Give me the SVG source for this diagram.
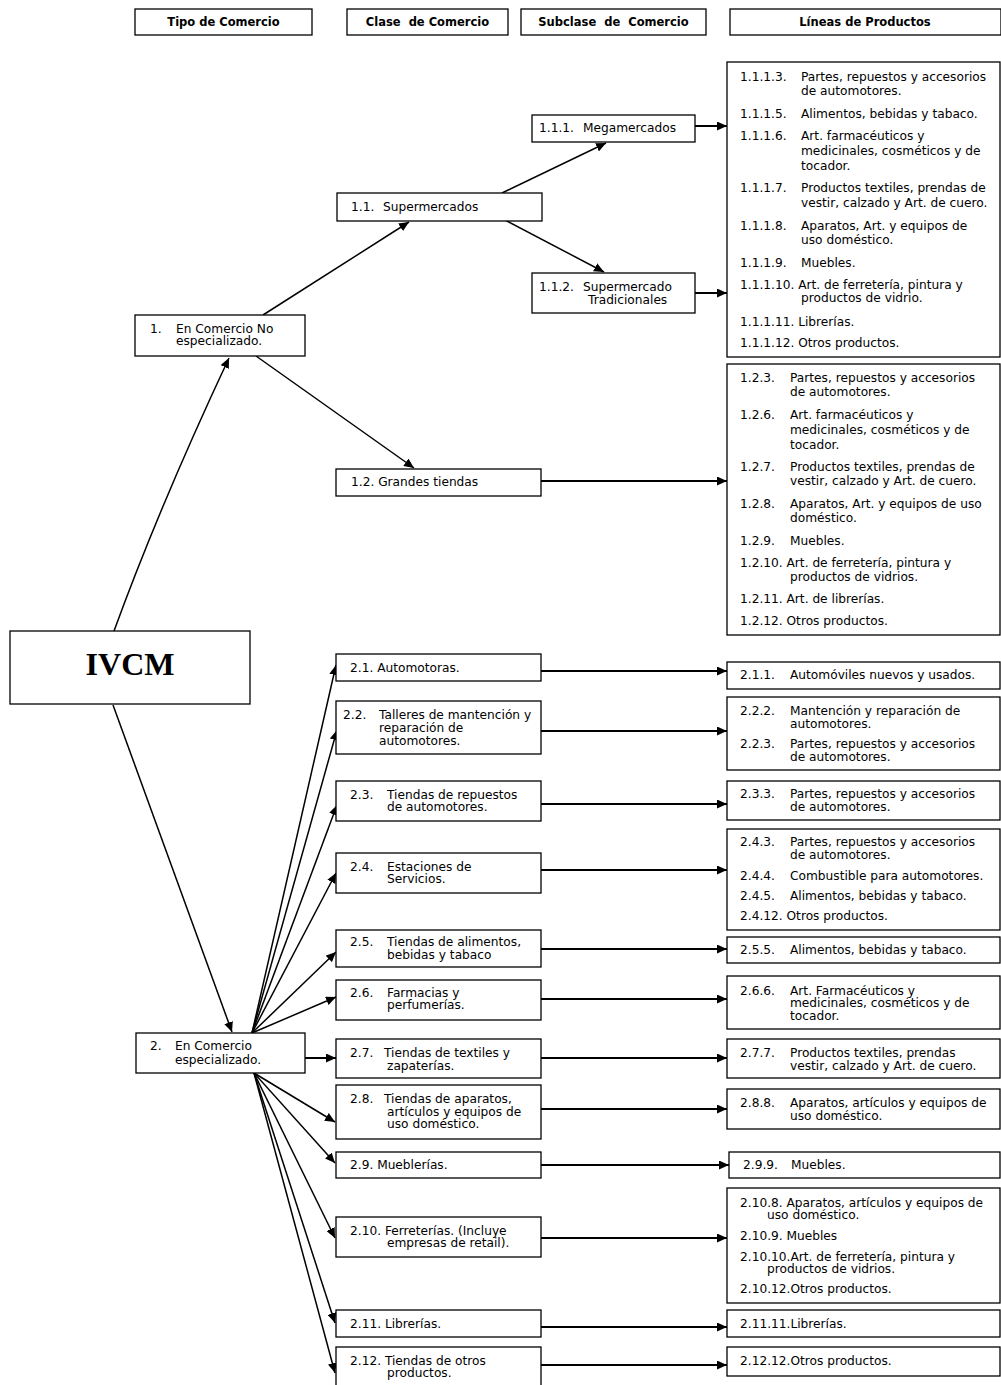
<svg xmlns="http://www.w3.org/2000/svg" width="1001" height="1385" viewBox="0 0 1001 1385">
<defs>
<marker id="a" markerUnits="userSpaceOnUse" markerWidth="11" markerHeight="9" refX="10" refY="4.5" orient="auto">
<path d="M0,0 L10,4.5 L0,9 z" fill="#000"/>
</marker>
<style>
.b{fill:#fff;stroke:#000;stroke-width:1.3}
.t{font-family:"DejaVu Sans",Verdana,sans-serif;font-size:12.2px;fill:#000}
.h{font-family:"DejaVu Sans",Verdana,sans-serif;font-weight:bold;font-size:11.5px;fill:#000;text-anchor:middle}
.i{font-family:"Liberation Serif","Times New Roman",serif;font-weight:bold;font-size:32px;fill:#000;text-anchor:middle}
#connectors line,#connectors path{stroke:#000;stroke-width:1.5;fill:none;marker-end:url(#a)}
#connectors .w{stroke-width:2}
</style>
</defs>
<rect width="1001" height="1385" fill="#fff"/>

<g id="headers">
<rect class="b" x="135" y="9" width="177" height="26"/>
<text class="h" x="223.5" y="26">Tipo de Comercio</text>
<rect class="b" x="347" y="9" width="161" height="26"/>
<text class="h" x="427.5" y="26" xml:space="preserve">Clase  de Comercio</text>
<rect class="b" x="521" y="9" width="185" height="26"/>
<text class="h" x="613.5" y="26" xml:space="preserve">Subclase  de  Comercio</text>
<rect class="b" x="730" y="9" width="271" height="26"/>
<text class="h" x="865" y="26">Líneas de Productos</text>
</g>

<g id="connectors">
<line x1="263" y1="315" x2="409" y2="222"/>
<line x1="502" y1="193" x2="606" y2="143"/>
<line x1="505" y1="220" x2="604" y2="272"/>
<line class="w" x1="695" y1="126" x2="727" y2="126"/>
<line class="w" x1="695" y1="293" x2="727" y2="293"/>
<line x1="256" y1="356" x2="414" y2="468"/>
<line class="w" x1="541" y1="481" x2="727" y2="481"/>
<path d="M114,631 Q160,505 229,358"/>
<line x1="113" y1="705" x2="232" y2="1032"/>
<line x1="252" y1="1033" x2="336" y2="665"/>
<line x1="252" y1="1033" x2="337" y2="730"/>
<line x1="252" y1="1033" x2="337" y2="805"/>
<line x1="252" y1="1033" x2="336" y2="873"/>
<line x1="252" y1="1033" x2="336" y2="952"/>
<line x1="252" y1="1033" x2="336" y2="997"/>
<line class="w" x1="305" y1="1058" x2="336" y2="1058"/>
<line x1="254" y1="1073" x2="335" y2="1122"/>
<line x1="254" y1="1073" x2="335" y2="1163"/>
<line x1="254" y1="1073" x2="335" y2="1238"/>
<line x1="254" y1="1073" x2="335" y2="1323"/>
<line x1="254" y1="1073" x2="335" y2="1373"/>
<line class="w" x1="541" y1="671" x2="727" y2="671"/>
<line class="w" x1="541" y1="731" x2="727" y2="731"/>
<line class="w" x1="539" y1="804" x2="727" y2="804"/>
<line class="w" x1="541" y1="870" x2="727" y2="870"/>
<line class="w" x1="541" y1="949" x2="727" y2="949"/>
<line class="w" x1="541" y1="999" x2="727" y2="999"/>
<line class="w" x1="541" y1="1058" x2="727" y2="1058"/>
<line class="w" x1="541" y1="1109" x2="727" y2="1109"/>
<line class="w" x1="541" y1="1165" x2="729" y2="1165"/>
<line class="w" x1="541" y1="1238" x2="727" y2="1238"/>
<line class="w" x1="541" y1="1327" x2="727" y2="1327"/>
<line class="w" x1="541" y1="1365" x2="727" y2="1365"/>
</g>

<g id="ivcm">
<rect class="b" x="10" y="631" width="240" height="73" stroke-width="2"/>
<text class="i" x="130" y="675">IVCM</text>
</g>

<g id="n1">
<rect class="b" x="135" y="315" width="170" height="41"/>
<text class="t" x="150" y="333">1.</text><text class="t" x="176" y="333">En Comercio No</text>
<text class="t" x="176" y="345">especializado.</text>
</g>

<g id="n1-1">
<rect class="b" x="337" y="193" width="205" height="28"/>
<text class="t" x="351" y="211">1.1.</text><text class="t" x="383" y="211">Supermercados</text>
</g>

<g id="n1-1-1">
<rect class="b" x="532" y="115" width="163" height="27"/>
<text class="t" x="539" y="132">1.1.1.</text><text class="t" x="583" y="132">Megamercados</text>
</g>

<g id="n1-1-2">
<rect class="b" x="532" y="273" width="163" height="40"/>
<text class="t" x="539" y="291">1.1.2.</text><text class="t" x="583" y="291">Supermercado</text>
<text class="t" x="588" y="304">Tradicionales</text>
</g>

<g id="p1-1">
<rect class="b" x="727" y="62" width="273" height="295"/>
<text class="t" x="740" y="81">1.1.1.3.</text><text class="t" x="801" y="81">Partes, repuestos y accesorios</text>
<text class="t" x="801" y="95">de automotores.</text>
<text class="t" x="740" y="118">1.1.1.5.</text><text class="t" x="801" y="118">Alimentos, bebidas y tabaco.</text>
<text class="t" x="740" y="140">1.1.1.6.</text><text class="t" x="801" y="140">Art. farmacéuticos y</text>
<text class="t" x="801" y="155">medicinales, cosméticos y de</text>
<text class="t" x="801" y="170">tocador.</text>
<text class="t" x="740" y="192">1.1.1.7.</text><text class="t" x="801" y="192">Productos textiles, prendas de</text>
<text class="t" x="801" y="207">vestir, calzado y Art. de cuero.</text>
<text class="t" x="740" y="230">1.1.1.8.</text><text class="t" x="801" y="230">Aparatos, Art. y equipos de</text>
<text class="t" x="801" y="244">uso doméstico.</text>
<text class="t" x="740" y="267">1.1.1.9.</text><text class="t" x="801" y="267">Muebles.</text>
<text class="t" x="740" y="289">1.1.1.10. Art. de ferretería, pintura y</text>
<text class="t" x="801" y="302">productos de vidrio.</text>
<text class="t" x="740" y="326">1.1.1.11. Librerías.</text>
<text class="t" x="740" y="347">1.1.1.12. Otros productos.</text>
</g>

<g id="n1-2">
<rect class="b" x="336" y="469" width="205" height="27"/>
<text class="t" x="351" y="486">1.2. Grandes tiendas</text>
</g>

<g id="p1-2">
<rect class="b" x="727" y="364" width="273" height="271"/>
<text class="t" x="740" y="382">1.2.3.</text><text class="t" x="790" y="382">Partes, repuestos y accesorios</text>
<text class="t" x="790" y="396">de automotores.</text>
<text class="t" x="740" y="419">1.2.6.</text><text class="t" x="790" y="419">Art. farmacéuticos y</text>
<text class="t" x="790" y="434">medicinales, cosméticos y de</text>
<text class="t" x="790" y="449">tocador.</text>
<text class="t" x="740" y="471">1.2.7.</text><text class="t" x="790" y="471">Productos textiles, prendas de</text>
<text class="t" x="790" y="485">vestir, calzado y Art. de cuero.</text>
<text class="t" x="740" y="508">1.2.8.</text><text class="t" x="790" y="508">Aparatos, Art. y equipos de uso</text>
<text class="t" x="790" y="522">doméstico.</text>
<text class="t" x="740" y="545">1.2.9.</text><text class="t" x="790" y="545">Muebles.</text>
<text class="t" x="740" y="567">1.2.10. Art. de ferretería, pintura y</text>
<text class="t" x="790" y="581">productos de vidrios.</text>
<text class="t" x="740" y="603">1.2.11. Art. de librerías.</text>
<text class="t" x="740" y="625">1.2.12. Otros productos.</text>
</g>

<g id="n2">
<rect class="b" x="136" y="1033" width="169" height="40"/>
<text class="t" x="150" y="1050">2.</text><text class="t" x="175" y="1050">En Comercio</text>
<text class="t" x="175" y="1064">especializado.</text>
</g>

<g id="n2-1">
<rect class="b" x="336" y="654" width="205" height="27"/>
<text class="t" x="350" y="672">2.1. Automotoras.</text>
</g>
<g id="p2-1">
<rect class="b" x="727" y="662" width="273" height="27"/>
<text class="t" x="740" y="679">2.1.1.</text><text class="t" x="790" y="679">Automóviles nuevos y usados.</text>
</g>

<g id="n2-2">
<rect class="b" x="336" y="701" width="205" height="53"/>
<text class="t" x="343" y="719">2.2.</text><text class="t" x="379" y="719">Talleres de mantención y</text>
<text class="t" x="379" y="732">reparación de</text>
<text class="t" x="379" y="745">automotores.</text>
</g>
<g id="p2-2">
<rect class="b" x="727" y="697" width="273" height="73"/>
<text class="t" x="740" y="715">2.2.2.</text><text class="t" x="790" y="715">Mantención y reparación de</text>
<text class="t" x="790" y="728">automotores.</text>
<text class="t" x="740" y="748">2.2.3.</text><text class="t" x="790" y="748">Partes, repuestos y accesorios</text>
<text class="t" x="790" y="761">de automotores.</text>
</g>

<g id="n2-3">
<rect class="b" x="336" y="781" width="205" height="40"/>
<text class="t" x="350" y="799">2.3.</text><text class="t" x="387" y="799">Tiendas de repuestos</text>
<text class="t" x="387" y="811">de automotores.</text>
</g>
<g id="p2-3">
<rect class="b" x="727" y="781" width="273" height="39"/>
<text class="t" x="740" y="798">2.3.3.</text><text class="t" x="790" y="798">Partes, repuestos y accesorios</text>
<text class="t" x="790" y="811">de automotores.</text>
</g>

<g id="n2-4">
<rect class="b" x="336" y="853" width="205" height="40"/>
<text class="t" x="350" y="871">2.4.</text><text class="t" x="387" y="871">Estaciones de</text>
<text class="t" x="387" y="883">Servicios.</text>
</g>
<g id="p2-4">
<rect class="b" x="727" y="829" width="273" height="101"/>
<text class="t" x="740" y="846">2.4.3.</text><text class="t" x="790" y="846">Partes, repuestos y accesorios</text>
<text class="t" x="790" y="859">de automotores.</text>
<text class="t" x="740" y="880">2.4.4.</text><text class="t" x="790" y="880">Combustible para automotores.</text>
<text class="t" x="740" y="900">2.4.5.</text><text class="t" x="790" y="900">Alimentos, bebidas y tabaco.</text>
<text class="t" x="740" y="920">2.4.12. Otros productos.</text>
</g>

<g id="n2-5">
<rect class="b" x="336" y="930" width="205" height="37"/>
<text class="t" x="350" y="946">2.5.</text><text class="t" x="387" y="946">Tiendas de alimentos,</text>
<text class="t" x="387" y="959">bebidas y tabaco</text>
</g>
<g id="p2-5">
<rect class="b" x="727" y="937" width="273" height="26"/>
<text class="t" x="740" y="954">2.5.5.</text><text class="t" x="790" y="954">Alimentos, bebidas y tabaco.</text>
</g>

<g id="n2-6">
<rect class="b" x="336" y="980" width="205" height="40"/>
<text class="t" x="350" y="997">2.6.</text><text class="t" x="387" y="997">Farmacias y</text>
<text class="t" x="387" y="1009">perfumerías.</text>
</g>
<g id="p2-6">
<rect class="b" x="727" y="976" width="273" height="53"/>
<text class="t" x="740" y="995">2.6.6.</text><text class="t" x="790" y="995">Art. Farmacéuticos y</text>
<text class="t" x="790" y="1007">medicinales, cosméticos y de</text>
<text class="t" x="790" y="1020">tocador.</text>
</g>

<g id="n2-7">
<rect class="b" x="336" y="1039" width="205" height="39"/>
<text class="t" x="350" y="1057">2.7.</text><text class="t" x="384" y="1057">Tiendas de textiles y</text>
<text class="t" x="387" y="1070">zapaterías.</text>
</g>
<g id="p2-7">
<rect class="b" x="727" y="1039" width="273" height="39"/>
<text class="t" x="740" y="1057">2.7.7.</text><text class="t" x="790" y="1057">Productos textiles, prendas</text>
<text class="t" x="790" y="1070">vestir, calzado y Art. de cuero.</text>
</g>

<g id="n2-8">
<rect class="b" x="336" y="1085" width="205" height="54"/>
<text class="t" x="350" y="1103">2.8.</text><text class="t" x="384" y="1103">Tiendas de aparatos,</text>
<text class="t" x="387" y="1116">artículos y equipos de</text>
<text class="t" x="387" y="1128">uso doméstico.</text>
</g>
<g id="p2-8">
<rect class="b" x="727" y="1089" width="273" height="40"/>
<text class="t" x="740" y="1107">2.8.8.</text><text class="t" x="790" y="1107">Aparatos, artículos y equipos de</text>
<text class="t" x="790" y="1120">uso doméstico.</text>
</g>

<g id="n2-9">
<rect class="b" x="336" y="1152" width="205" height="26"/>
<text class="t" x="350" y="1169">2.9. Mueblerías.</text>
</g>
<g id="p2-9">
<rect class="b" x="729" y="1152" width="271" height="26"/>
<text class="t" x="743" y="1169">2.9.9.</text><text class="t" x="791" y="1169">Muebles.</text>
</g>

<g id="n2-10">
<rect class="b" x="336" y="1217" width="205" height="40"/>
<text class="t" x="350" y="1235">2.10. Ferreterías. (Incluye</text>
<text class="t" x="387" y="1247">empresas de retail).</text>
</g>
<g id="p2-10">
<rect class="b" x="727" y="1188" width="273" height="115"/>
<text class="t" x="740" y="1207">2.10.8. Aparatos, artículos y equipos de</text>
<text class="t" x="767" y="1219">uso doméstico.</text>
<text class="t" x="740" y="1240">2.10.9. Muebles</text>
<text class="t" x="740" y="1261">2.10.10.Art. de ferretería, pintura y</text>
<text class="t" x="767" y="1273">productos de vidrios.</text>
<text class="t" x="740" y="1293">2.10.12.Otros productos.</text>
</g>

<g id="n2-11">
<rect class="b" x="336" y="1310" width="205" height="27"/>
<text class="t" x="350" y="1328">2.11. Librerías.</text>
</g>
<g id="p2-11">
<rect class="b" x="727" y="1310" width="273" height="27"/>
<text class="t" x="740" y="1328">2.11.11.Librerías.</text>
</g>

<g id="n2-12">
<rect class="b" x="336" y="1347" width="205" height="45"/>
<text class="t" x="350" y="1365">2.12. Tiendas de otros</text>
<text class="t" x="387" y="1377">productos.</text>
</g>
<g id="p2-12">
<rect class="b" x="727" y="1347" width="273" height="29"/>
<text class="t" x="740" y="1365">2.12.12.Otros productos.</text>
</g>
</svg>
